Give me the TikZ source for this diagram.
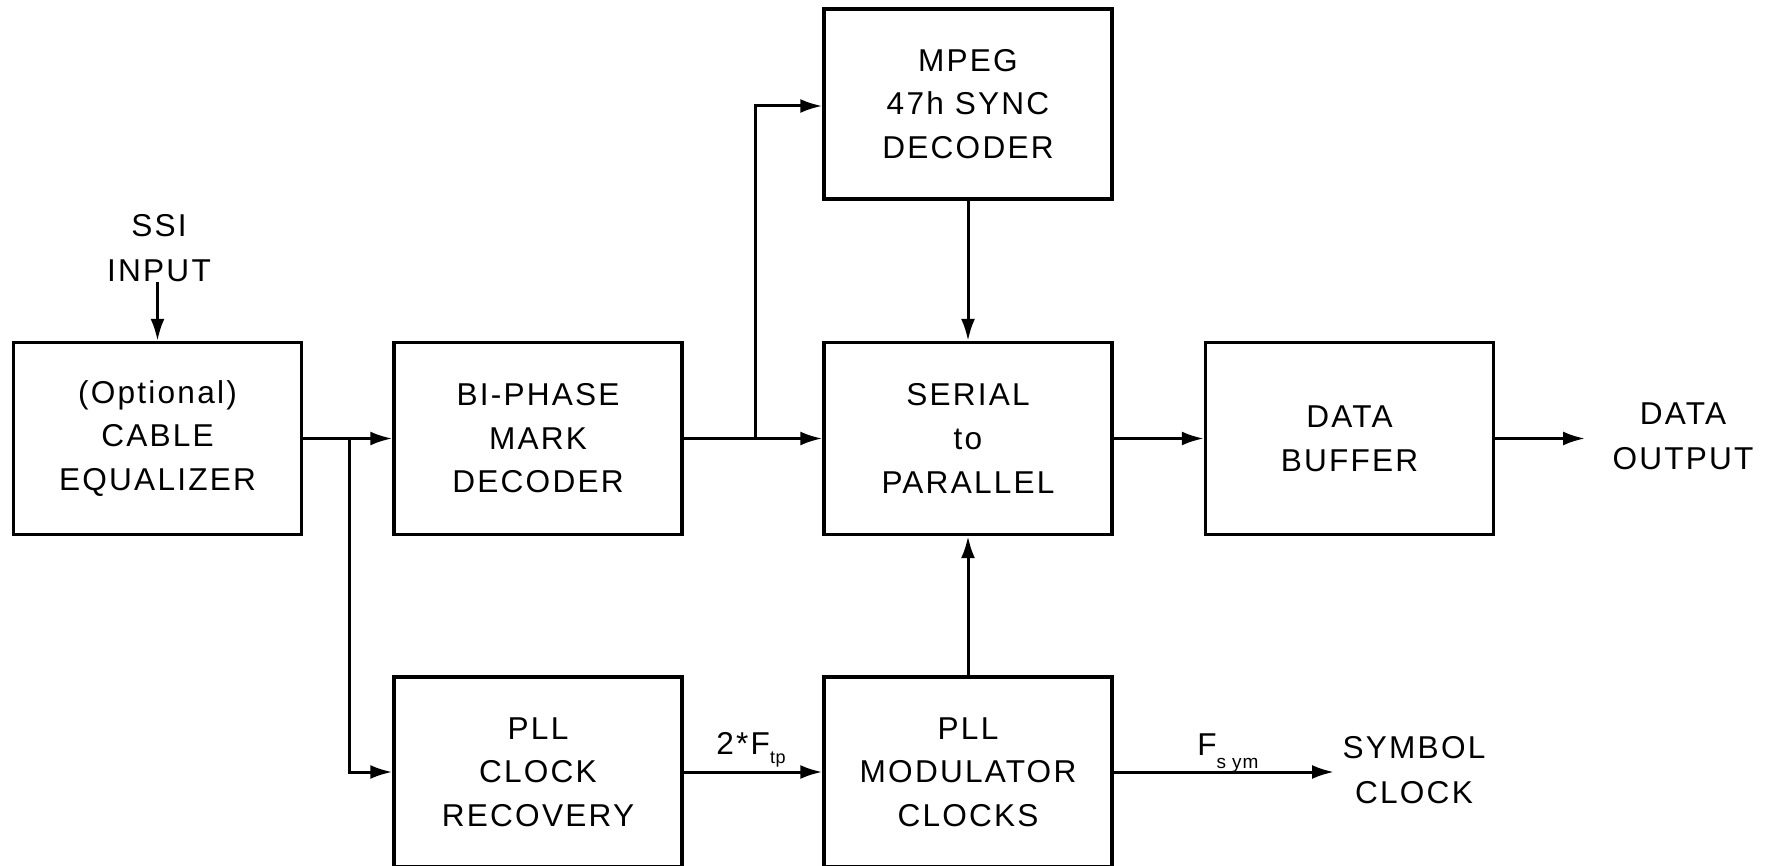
\documentclass[tikz,border=0pt]{standalone}
\usepackage{fontspec}
\setmainfont[LetterSpace=7]{Liberation Sans}
\newfontfamily\subfont[LetterSpace=4]{Liberation Sans}
\usetikzlibrary{arrows.meta}
\begin{document}
\begin{tikzpicture}[x=0.5pt,y=-0.5pt,
  blk/.style={draw,line width=1.7pt,minimum width=144pt,minimum height=96pt,align=center,inner sep=0pt,
    font=\fontsize{15.8}{21.8}\selectfont},
  lowblk/.style={blk,minimum height=95pt},
  arr/.style={line width=1.5pt,-{Latex[length=11pt,width=7pt]}},
  txt/.style={align=center,inner sep=0pt,font=\fontsize{15.8}{22.5}\selectfont},
  lbl/.style={inner sep=0pt,font=\fontsize{15.8}{18}\selectfont}]
\clip (0,0) rectangle (1766,866);
\useasboundingbox (0,0) rectangle (1766,866);
% blocks
\node[blk] (eq) at (157.5,438.5) {(Optional)\\CABLE\\EQUALIZER};
\node[blk] (bi) at (538,438.5) {BI-PHASE\\MARK\\DECODER};
\node[blk,minimum height=95pt] (mpeg) at (968,104) {MPEG\\47h SYNC\\DECODER};
\node[blk] (ser) at (968,438.5) {SERIAL\\to\\PARALLEL};
\node[blk] (buf) at (1349.5,438.5) {DATA\\BUFFER};
\node[lowblk] (pllc) at (538,772) {PLL\\CLOCK\\RECOVERY};
\node[lowblk] (pllm) at (968,772) {PLL\\MODULATOR\\CLOCKS};
% free texts
\node[txt] (ssi) at (159,248) {SSI\\INPUT};
\node[txt] (dout) at (1683,436) {DATA\\OUTPUT};
\node[txt] (sym) at (1414,770) {SYMBOL\\CLOCK};
% coordinates
\coordinate (ssiend) at (157.5,282);
\coordinate (j1) at (349,438.5);
\coordinate (j2) at (755,438.5);
\coordinate (doutend) at (1585,438.5);
\coordinate (symend) at (1334,772);
% connectors
\draw[arr] (ssiend) -- (eq.north);
\draw[arr] (eq.east) -- (bi.west);
\draw[arr] (j1) |- (pllc.west);
\draw[arr] (bi.east) -- (ser.west);
\draw[arr] (j2) |- ([yshift=-1pt]mpeg.west);
\draw[arr] (mpeg.south) -- (ser.north);
\draw[arr] (pllm.north) -- (ser.south);
\draw[arr] (ser.east) -- (buf.west);
\draw[arr] (buf.east) -- (doutend);
\draw[arr] (pllc.east) -- (pllm.west);
\draw[arr] (pllm.east) -- (symend);
% labels
\node[lbl,anchor=base west] (ftp) at (716,754) {2*F\raisebox{-4.5pt}{\subfont\fontsize{9}{9}\selectfont tp}};
\node[lbl,anchor=base west] (fsym) at (1197,755) {F\raisebox{-6.5pt}{\subfont\fontsize{9.5}{9.5}\selectfont s ym}};
\end{tikzpicture}
\end{document}
